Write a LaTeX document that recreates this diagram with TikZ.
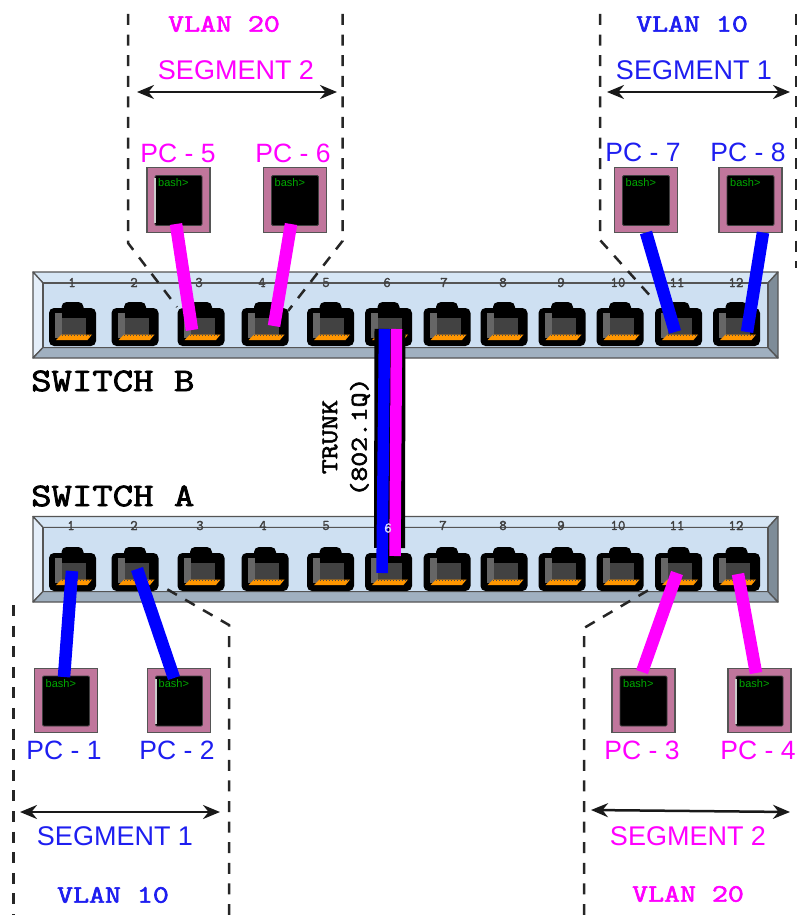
\documentclass[tikz,border=0pt]{standalone}
\usepackage{fontspec}
\usepackage{graphicx}
\setmainfont{Liberation Sans}
\setmonofont[AutoFakeBold=2.2]{Latin Modern Mono}
\usetikzlibrary{arrows.meta}
\definecolor{mag}{RGB}{255,0,255}
\definecolor{blu}{RGB}{0,0,255}
\definecolor{blutxt}{RGB}{30,30,240}
\definecolor{face}{RGB}{206,224,242}
\definecolor{bevtop}{RGB}{214,230,245}
\definecolor{bevleft}{RGB}{228,238,249}
\definecolor{bevbot}{RGB}{160,176,192}
\definecolor{bevright}{RGB}{126,140,152}
\definecolor{edgec}{RGB}{85,85,85}
\definecolor{mauve}{RGB}{192,118,156}
\definecolor{orangeport}{RGB}{255,150,0}
\definecolor{bashgreen}{RGB}{0,170,0}
\tikzset{
  swline/.style={draw=edgec,line width=1.3pt,line join=round},
  zone/.style={draw=black!85,line width=2.5pt,dash pattern=on 11pt off 9.6pt},
  span/.style={black!90,line width=2.5pt,{Stealth[length=17pt,width=14pt]}-{Stealth[length=17pt,width=14pt]}},
  cablem/.style={mag,line width=12.5pt},
  cableb/.style={blu,line width=12.5pt},
  trunkm/.style={mag,line width=11.5pt},
  trunkb/.style={blu,line width=11.5pt},
  trunkshadow/.style={black,line width=31pt},
  pcframe/.style={draw=edgec,fill=mauve,line width=1.3pt,minimum width=63pt,minimum height=64.5pt,inner sep=0pt},
  pcscreen/.style={draw=black!75,fill=black,line width=.8pt,rounded corners=1.2pt,minimum width=47pt,minimum height=50pt,inner sep=0pt},
  bashtxt/.style={font=\fontsize{11}{11}\selectfont,text=bashgreen,inner sep=0pt,anchor=west},
  pctxt/.style={font=\fontsize{26.5}{27}\selectfont,inner sep=0pt},
  segtxt/.style={font=\fontsize{27}{27}\selectfont,inner sep=0pt},
  monotxt/.style={font=\ttfamily\bfseries\fontsize{25}{25}\selectfont,inner sep=0pt},
  swtxt/.style={font=\ttfamily\bfseries\fontsize{33}{33}\selectfont,inner sep=0pt,anchor=west},
  trunktxt/.style={font=\ttfamily\bfseries\fontsize{24}{24}\selectfont,inner sep=0pt,rotate=90},
  portnum/.style={font=\ttfamily\bfseries\fontsize{14.5}{15}\selectfont,text=black!75,inner sep=0pt},
  portbody/.style={fill=black,rounded corners=5pt,minimum width=47pt,minimum height=38pt,inner sep=0pt}
}
% name, centre x, top y of the jack
\newcommand{\rjport}[3]{%
  \fill[black,rounded corners=5pt] (#2-11,#3) rectangle (#2+11,#3+12);
  \node[portbody] (#1) at (#2,#3+25) {};
  \fill[black!60] (#2-17.5,#3+11) rectangle (#2-10.5,#3+36);
  \fill[black!74] (#2-10.5,#3+16) rectangle (#2+13.5,#3+33);
  \fill[orangeport] (#2-16.5,#3+38) -- (#2-11,#3+32.5) -- (#2+19.5,#3+32.5) -- (#2+15,#3+38) -- cycle;
  \draw[black!70,line width=.7pt,dash pattern=on 1.2pt off 1.8pt] (#2-11,#3+33) -- (#2+19,#3+33);
}
% name, centre x, centre y
\newcommand{\pcunit}[3]{%
  \node[pcframe] (#1) at (#2,#3) {};
  \node[pcscreen] (#1s) at (#2,#3+.5) {};
  \node[bashtxt] (#1t) at (#2-20.5,#3-17) {bash>};
}
\newcommand{\pcstripe}[2]{%
  \fill[black!20] (#1-24.5,#2-22) rectangle (#1-22.5,#2+23);
}
% y top outer, y top inner, y bottom inner, y bottom outer
\newcommand{\switchbody}[4]{%
  \path[swline,fill=bevtop] (33,#1) -- (778,#1) -- (768,#2) -- (43,#2) -- cycle;
  \path[swline,fill=bevleft] (33,#1) -- (43,#2) -- (43,#3) -- (33,#4) -- cycle;
  \path[swline,fill=bevbot] (33,#4) -- (43,#3) -- (768,#3) -- (778,#4) -- cycle;
  \path[swline,fill=bevright] (778,#1) -- (768,#2) -- (768,#3) -- (778,#4) -- cycle;
  \path[swline,fill=face] (43,#2) rectangle (768,#3);
}
\begin{document}
\begin{tikzpicture}[x=1pt,y=-1pt]
\useasboundingbox (0,0) rectangle (798,915);

% switches
\switchbody{272}{283}{347.5}{358}
\switchbody{516.5}{527.5}{591.5}{602}

% ports and numbers
\foreach \n/\x/\lx in {1/72.5/72,2/135/134,3/201/199,4/265/262,5/330.5/326,6/388.5/387,7/447/444,8/504/503,9/562/561,10/620/618,11/678.5/677,12/736.5/736}{
  \rjport{b\n}{\x}{302}
  \rjport{a\n}{\x}{547}
  \node[portnum] (bn\n) at (\lx,282.5) {\n};
}
\foreach \n/\lx in {1/71,2/134,3/200,4/263,5/326,7/443,8/503,9/561,10/618,11/677,12/736}{
  \node[portnum] (an\n) at (\lx,525.5) {\n};
}

% dashed zones
\coordinate (z1a) at (128,14);  \coordinate (z1b) at (128,243); \coordinate (z1c) at (177,307);
\coordinate (z2a) at (342.5,14);\coordinate (z2b) at (342.5,241);\coordinate (z2c) at (288,311);
\coordinate (z3a) at (600,14);  \coordinate (z3b) at (600,240); \coordinate (z3c) at (653,299);
\coordinate (z4a) at (796,14);  \coordinate (z4b) at (796,268);
\coordinate (z5a) at (13.5,605);\coordinate (z5b) at (13.5,915);
\coordinate (z6a) at (229,915); \coordinate (z6b) at (229,625); \coordinate (z6c) at (165,588);
\coordinate (z7a) at (584,915); \coordinate (z7b) at (584,628); \coordinate (z7c) at (652,588);
\draw[zone] (z1a) -- (z1b) -- (z1c);
\draw[zone] (z2a) -- (z2b) -- (z2c);
\draw[zone] (z3a) -- (z3b) -- (z3c);
\draw[zone] (z4a) -- (z4b);
\draw[zone] (z5a) -- (z5b);
\draw[zone] (z6a) -- (z6b) -- (z6c);
\draw[zone] (z7a) -- (z7b) -- (z7c);

% PCs
\pcunit{pc1}{66}{700.5}
\pcunit{pc2}{179}{700.5}\pcstripe{179}{700.5}
\pcunit{pc3}{643.5}{700.5}
\pcunit{pc4}{759.5}{700.5}\pcstripe{759.5}{700.5}
\pcunit{pc5}{178.5}{200}\pcstripe{178.5}{200}
\pcunit{pc6}{295}{200}
\pcunit{pc7}{646}{200}
\pcunit{pc8}{750.5}{200}

% cable ends
\coordinate (c1p) at (64,677);   \coordinate (c1s) at (72,571);
\coordinate (c2p) at (174,678);  \coordinate (c2s) at (137,569);
\coordinate (c3p) at (642,672);  \coordinate (c3s) at (677,573);
\coordinate (c4p) at (756,673);  \coordinate (c4s) at (738,574);
\coordinate (c5p) at (176,224);  \coordinate (c5s) at (192,330);
\coordinate (c6p) at (291,224);  \coordinate (c6s) at (274,326);
\coordinate (c7p) at (646,232.5);\coordinate (c7s) at (675,332);
\coordinate (c8p) at (763,232.5);\coordinate (c8s) at (747,332);
\coordinate (tsb) at (390,329);  \coordinate (tsa) at (389.5,548);
\coordinate (tbb) at (384.5,329);\coordinate (tba) at (382,573);
\coordinate (tmb) at (396.5,329);\coordinate (tma) at (395,556);

\draw[cableb] (c1p) -- (c1s);
\draw[cableb] (c2p) -- (c2s);
\draw[cablem] (c3p) -- (c3s);
\draw[cablem] (c4p) -- (c4s);
\draw[cablem] (c5p) -- (c5s);
\draw[cablem] (c6p) -- (c6s);
\draw[cableb] (c7p) -- (c7s);
\draw[cableb] (c8p) -- (c8s);
\draw[trunkshadow] (tsb) -- (tsa);
\draw[trunkm] (tmb) -- (tma);
\draw[trunkb] (tbb) -- (tba);
\node[portnum,text=white!85!blue] (an6) at (388,528) {6};

% spans
\coordinate (s1a) at (137,92);  \coordinate (s1b) at (337,92);
\coordinate (s2a) at (607,92);  \coordinate (s2b) at (790,92);
\coordinate (s3a) at (20,812);  \coordinate (s3b) at (220,812);
\coordinate (s4a) at (591,810); \coordinate (s4b) at (790,812);
\draw[span] (s1a) -- (s1b);
\draw[span] (s2a) -- (s2b);
\draw[span] (s3a) -- (s3b);
\draw[span] (s4a) -- (s4b);

% texts
\node[monotxt,text=mag] (v1) at (224,24) {\scalebox{1.24}[1]{VLAN 20}};
\node[monotxt,text=blutxt] (v2) at (692,24) {\scalebox{1.24}[1]{VLAN 10}};
\node[monotxt,text=blutxt] (v3) at (113,895) {\scalebox{1.24}[1]{VLAN 10}};
\node[monotxt,text=mag] (v4) at (688,894) {\scalebox{1.24}[1]{VLAN 20}};
\node[segtxt,text=mag] (g1) at (236,70) {SEGMENT 2};
\node[segtxt,text=blutxt] (g2) at (694,70) {SEGMENT 1};
\node[segtxt,text=blutxt] (g3) at (115,836) {SEGMENT 1};
\node[segtxt,text=mag] (g4) at (688,836) {SEGMENT 2};
\node[pctxt,text=mag] (t5) at (178,153) {PC - 5};
\node[pctxt,text=mag] (t6) at (293,153) {PC - 6};
\node[pctxt,text=blutxt] (t7) at (643,152) {PC - 7};
\node[pctxt,text=blutxt] (t8) at (748,152) {PC - 8};
\node[pctxt,text=blutxt] (t1) at (64,750) {PC - 1};
\node[pctxt,text=blutxt] (t2) at (177,750) {PC - 2};
\node[pctxt,text=mag] (t3) at (642,750) {PC - 3};
\node[pctxt,text=mag] (t4) at (758,750) {PC - 4};
\node[swtxt] (swb) at (31,381) {\scalebox{1.2}[1]{SWITCH B}};
\node[swtxt] (swa) at (31,496) {\scalebox{1.2}[1]{SWITCH A}};
\node[trunktxt] (tk1) at (330,437) {\scalebox{1.2}[1]{TRUNK}};
\node[trunktxt] (tk2) at (360,437) {\scalebox{1.2}[1]{(802.1Q)}};
\end{tikzpicture}
\end{document}
